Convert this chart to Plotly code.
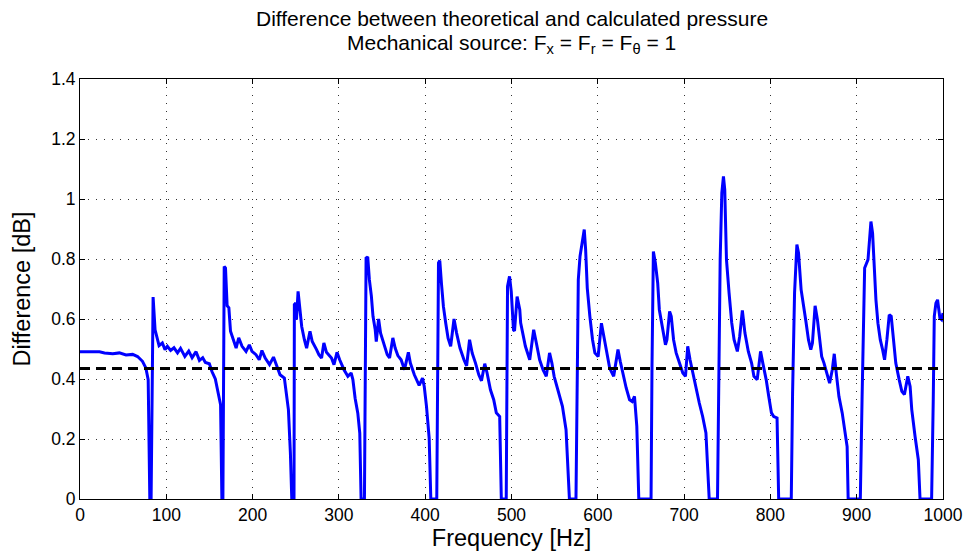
import plotly.graph_objects as go

# ---- data ----
freq_hz = [
    0, 22.6, 28.4, 38, 45.6, 53.3, 61, 66.7, 72.4, 76.3, 79, 80.9, 82.4, 84.7, 87, 89.7, 91.6,
    95.4, 98.5, 101.2, 105, 108.9, 113, 116.5, 121.5, 126, 129.9, 134.5, 138.4, 142.2, 145.3,
    149.9, 152.9, 156.8, 160.6, 162.9, 164.4, 165.6, 167.1, 168.6, 170.5, 172.5, 174.4, 178.2,
    180.9, 183.9, 187.8, 192.4, 196.2, 199.3, 203.9, 207.7, 210.8, 214.6, 219.6, 224.2, 228,
    231.8, 236.8, 238.8, 241.5, 243.8, 245.4, 248, 248.4, 250, 250.8, 252.7, 254.2, 256.9, 260,
    262.6, 266.5, 269.1, 274.1, 276.8, 279.9, 282.6, 285.6, 291.4, 294.3, 297.8, 300.9, 305.9,
    310.4, 314.2, 316.2, 318.8, 321.9, 324.2, 325.7, 329.6, 331.5, 333.4, 335.3, 337.6, 339.5,
    342.1, 343.3, 346, 348.3, 352.1, 356, 358.7, 362.5, 365.2, 368.3, 372.1, 376, 380.5, 382.8,
    387.4, 393, 396.9, 398.9, 401.5, 404.6, 406.5, 413.4, 415.4, 416.9, 418.8, 421.1, 423.8,
    426.5, 429.5, 433.4, 436.4, 440.3, 444.9, 448, 451.4, 454.5, 458.3, 462.1, 465.2, 469,
    471.7, 475.6, 479.4, 482.4, 486.3, 488.2, 493.9, 495.4, 497.7, 499.7, 502.3, 503.5, 506.5,
    509.6, 510.6, 513.4, 516.1, 521.1, 525.7, 528.8, 532.6, 536.5, 540.3, 544.1, 546.8, 549.4,
    554.4, 559, 563.2, 564.8, 567.1, 574.7, 576.3, 577.4, 579.4, 582, 584.3, 585.9, 587.8,
    590.8, 593.9, 596.6, 600.4, 604.2, 606.9, 610, 613.8, 618.4, 623.4, 626, 629.1, 632.9,
    636.8, 639.8, 642.5, 645.2, 647.5, 661.7, 662.8, 664.4, 666.7, 669.4, 671.3, 675.3, 678.4,
    680.1, 683.2, 685.1, 687.8, 690.8, 694.7, 698.5, 701.6, 704.2, 706.9, 710.7, 713.8, 717.6,
    721.5, 725.3, 727.2, 729.1, 738.7, 740.6, 741.8, 743.7, 745.6, 747.1, 749.1, 752.1, 755.2,
    757.9, 761.7, 764.4, 767.5, 770.5, 774.4, 778.2, 780.9, 784.7, 788.6, 791.2, 795.1, 798.1,
    801.2, 803.9, 807.7, 809.6, 824.2, 825.7, 828, 830.7, 832.6, 835.6, 838.3, 841, 844.1,
    846.8, 848.7, 851.8, 854.5, 857.1, 859.4, 862.1, 865.9, 868.6, 871.7, 874, 876.3, 879.4,
    883.2, 886.3, 888.9, 890.1, 904.2, 906.2, 907.3, 909.2, 913.1, 914.6, 916.5, 918.4, 920.4,
    922.3, 924.6, 927.3, 930, 932.3, 935, 937.7, 940, 942.7, 945.3, 949.2, 952.3, 955.3, 959.2,
    961.9, 963.8, 967.6, 971.4, 973.4, 986.8, 988.7, 989.9, 991.8, 993.7, 996.4, 998.3, 1000,
]
difference_db = [
    0.491, 0.491, 0.487, 0.484, 0.487, 0.480, 0.482, 0.475, 0.459, 0.437, 0.398, 0, 0, 0.673,
    0.564, 0.531, 0.511, 0.520, 0.498, 0.509, 0.495, 0.504, 0.487, 0.502, 0.475, 0.493, 0.471,
    0.491, 0.462, 0.471, 0.455, 0.451, 0.425, 0.400, 0.342, 0.314, 0, 0, 0.775, 0.77, 0.644,
    0.637, 0.559, 0.525, 0.503, 0.537, 0.509, 0.492, 0.514, 0.492, 0.481, 0.464, 0.495, 0.470,
    0.448, 0.473, 0.442, 0.414, 0.403, 0.353, 0.298, 0.153, 0, 0, 0.648, 0.653, 0.598, 0.692,
    0.642, 0.575, 0.531, 0.503, 0.559, 0.525, 0.498, 0.481, 0.470, 0.520, 0.489, 0.470, 0.448,
    0.489, 0.464, 0.431, 0.409, 0.420, 0.398, 0.336, 0.286, 0.220, 0, 0, 0.803, 0.807, 0.731,
    0.677, 0.609, 0.564, 0.525, 0.600, 0.553, 0.514, 0.481, 0.470, 0.537, 0.503, 0.478, 0.464,
    0.431, 0.489, 0.453, 0.414, 0.379, 0.403, 0.375, 0.309, 0.203, 0, 0, 0.787, 0.795, 0.720,
    0.642, 0.586, 0.536, 0.509, 0.600, 0.553, 0.503, 0.464, 0.444, 0.531, 0.486, 0.453, 0.414,
    0.394, 0.451, 0.420, 0.364, 0.331, 0.287, 0.275, 0, 0, 0.709, 0.742, 0.692, 0.564, 0.56,
    0.675, 0.631, 0.587, 0.542, 0.509, 0.464, 0.564, 0.520, 0.464, 0.431, 0.409, 0.487, 0.453,
    0.409, 0.353, 0.309, 0.231, 0.153, 0, 0, 0.442, 0.731, 0.809, 0.864, 0.898, 0.831, 0.703,
    0.609, 0.531, 0.487, 0.475, 0.586, 0.542, 0.487, 0.436, 0.409, 0.498, 0.459, 0.414, 0.370,
    0.331, 0.325, 0.342, 0.242, 0, 0, 0.442, 0.825, 0.787, 0.72, 0.631, 0.57, 0.514, 0.531,
    0.625, 0.609, 0.531, 0.487, 0.453, 0.420, 0.409, 0.509, 0.464, 0.409, 0.364, 0.320, 0.275,
    0.220, 0.109, 0, 0, 0.464, 0.798, 1.02, 1.075, 1.031, 0.798, 0.687, 0.587, 0.531, 0.492,
    0.542, 0.629, 0.553, 0.492, 0.453, 0.409, 0.398, 0.492, 0.453, 0.398, 0.342, 0.287, 0.275,
    0.270, 0, 0, 0.353, 0.687, 0.848, 0.820, 0.698, 0.653, 0.595, 0.531, 0.498, 0.520, 0.644,
    0.598, 0.542, 0.475, 0.453, 0.409, 0.386, 0.431, 0.484, 0.420, 0.342, 0.287, 0.231, 0.175,
    0, 0, 0.331, 0.553, 0.770, 0.798, 0.864, 0.925, 0.886, 0.775, 0.664, 0.586, 0.531, 0.498,
    0.464, 0.531, 0.614, 0.609, 0.520, 0.453, 0.398, 0.359, 0.348, 0.409, 0.375, 0.298, 0.209,
    0.131, 0, 0, 0.331, 0.609, 0.653, 0.664, 0.603, 0.598, 0.62,
]
mean_level_db = 0.435
x_range = [0, 1000]
x_ticks = [0, 100, 200, 300, 400, 500, 600, 700, 800, 900, 1000]
y_ticks = [0, 0.2, 0.4, 0.6, 0.8, 1.0, 1.2, 1.4]
y_ticklabels = ["0", "0.2", "0.4", "0.6", "0.8", "1", "1.2", "1.4"]
title_line1 = "Difference between theoretical and calculated pressure"
title_line2 = "Mechanical source: F<sub>x</sub> = F<sub>r</sub> = F<sub>θ</sub> = 1"

FONT = "Liberation Sans, Arial, Helvetica, sans-serif"

fig = go.Figure()
fig.add_trace(go.Scatter(
    x=freq_hz, y=difference_db, mode="lines",
    line=dict(color="#0000FF", width=3), showlegend=False, hoverinfo="x+y",
))
fig.add_trace(go.Scatter(
    x=x_range, y=[mean_level_db, mean_level_db], mode="lines",
    line=dict(color="#000000", width=3, dash="10px,6px"), showlegend=False,
))

axis_common = dict(
    showline=True, linecolor="black", linewidth=1, mirror="allticks",
    ticks="inside", ticklen=5, tickcolor="black", tickwidth=1,
    showgrid=True, gridcolor="#333333", gridwidth=1, griddash="1px,7px",
    zeroline=False, tickfont=dict(family=FONT, size=17.5, color="black"),
)

fig.update_layout(
    width=975, height=556,
    margin=dict(l=80, r=27, t=79, b=57),
    paper_bgcolor="white", plot_bgcolor="white",
    font=dict(family=FONT, color="black"),
    xaxis=dict(
        range=x_range, tickvals=x_ticks,
        title=dict(text="Frequency [Hz]", font=dict(family=FONT, size=23.5), standoff=2),
        **axis_common,
    ),
    yaxis=dict(
        range=[0, 1.4], tickvals=y_ticks, ticktext=y_ticklabels,
        title=dict(text="Difference [dB]", font=dict(family=FONT, size=23.5), standoff=13),
        **axis_common,
    ),
    annotations=[
        dict(text=title_line1, xref="paper", yref="paper", x=0.5, y=1,
             xanchor="center", yanchor="middle", yshift=61, showarrow=False,
             font=dict(family=FONT, size=21, color="black")),
        dict(text=title_line2, xref="paper", yref="paper", x=0.5, y=1,
             xanchor="center", yanchor="middle", yshift=35, showarrow=False,
             font=dict(family=FONT, size=21, color="black")),
    ],
)

fig.write_html("out.html")
